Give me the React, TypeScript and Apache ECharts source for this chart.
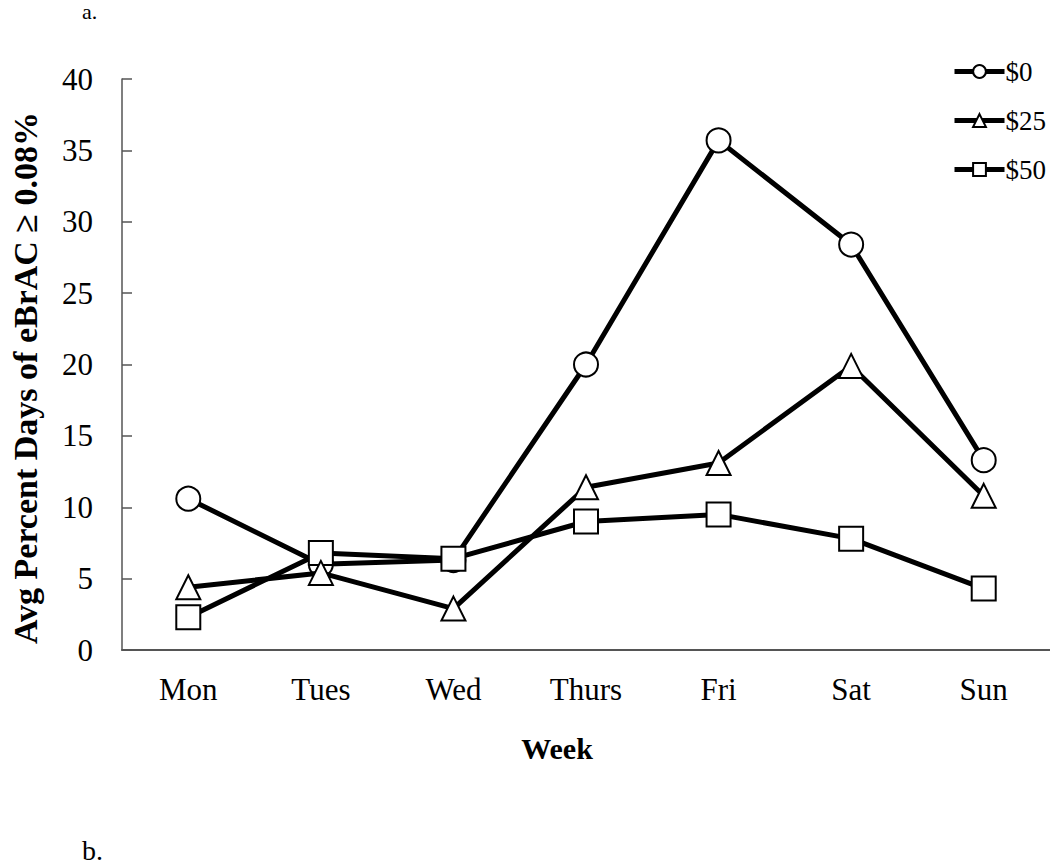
import React, { useEffect, useRef } from "react";
import * as echarts from "echarts";

const categories = ["Mon", "Tues", "Wed", "Thurs", "Fri", "Sat", "Sun"];
const seriesNames = ["$0", "$25", "$50"];
const values0 = [10.6, 6.0, 6.3, 20.0, 35.7, 28.4, 13.3];
const values25 = [4.4, 5.4, 2.9, 11.4, 13.1, 19.9, 10.8];
const values50 = [2.3, 6.8, 6.4, 9.0, 9.5, 7.8, 4.3];
const yTicks = { min: 0, max: 40, interval: 5 };

const FONT = "'Liberation Serif', 'Times New Roman', serif";

export default function App() {
  const ref = useRef<HTMLDivElement>(null);
  useEffect(() => {
    if (!ref.current) return;
    const chart = echarts.init(ref.current, undefined, { renderer: "svg" });
    const mkSeries = (name: string, data: number[], symbol: string, z: number) => ({
      name,
      type: "line",
      data,
      symbol,
      symbolSize: 24,
      z,
      lineStyle: { color: "#000", width: 5 },
      itemStyle: { color: "#fff", borderColor: "#000", borderWidth: 2 },
    });
    chart.setOption({
      animation: false,
      backgroundColor: "#fff",
      textStyle: { fontFamily: FONT },
      grid: { left: 122, top: 79, width: 934, height: 571, containLabel: false },
      legend: {
        orient: "vertical",
        left: 947,
        top: 53,
        itemWidth: 50,
        itemHeight: 16,
        itemGap: 22,
        data: seriesNames,
        lineStyle: { width: 5, color: "#000" },
        textStyle: { fontFamily: FONT, fontSize: 27, color: "#000", padding: [0, 0, 0, -4] },
      },
      xAxis: {
        type: "category",
        data: categories,
        boundaryGap: true,
        axisLine: { lineStyle: { color: "#555", width: 2 } },
        axisTick: { inside: true, alignWithLabel: true, length: 9, lineStyle: { color: "#555", width: 1.5 } },
        axisLabel: { fontFamily: FONT, fontSize: 31, color: "#000", margin: 24 },
        splitLine: { show: false },
      },
      yAxis: {
        type: "value",
        min: yTicks.min,
        max: yTicks.max,
        interval: yTicks.interval,
        axisLine: { show: true, lineStyle: { color: "#555", width: 1.5 } },
        axisTick: { show: true, inside: true, length: 10, lineStyle: { color: "#555", width: 1.5 } },
        axisLabel: { fontFamily: FONT, fontSize: 31, color: "#000", margin: 29 },
        splitLine: { show: false },
      },
      graphic: [
        {
          type: "text",
          x: 25,
          y: 378,
          rotation: Math.PI / 2,
          style: {
            text: "Avg Percent Days of eBrAC \u2265 0.08%",
            font: `bold 34px ${FONT}`,
            fill: "#000",
            align: "center",
            verticalAlign: "middle",
          },
        },
        {
          type: "text",
          x: 557,
          y: 748,
          style: { text: "Week", font: `bold 30px ${FONT}`, fill: "#000", align: "center", verticalAlign: "middle" },
        },
        {
          type: "text",
          x: 82,
          y: 0,
          style: { text: "a.", font: `22px ${FONT}`, lineHeight: 22, fill: "#000", align: "left", verticalAlign: "top" },
        },
        {
          type: "text",
          x: 82,
          y: 864,
          style: { text: "b.", font: `28px ${FONT}`, fill: "#000", align: "left", verticalAlign: "bottom" },
        },
      ],
      series: [
        mkSeries(seriesNames[0], values0, "circle", 2),
        mkSeries(seriesNames[1], values25, "triangle", 4),
        mkSeries(seriesNames[2], values50, "rect", 3),
      ],
    });
    return () => chart.dispose();
  }, []);
  return (
    <div
      ref={ref}
      style={{ position: "absolute", left: 0, top: 0, width: 1050, height: 864, background: "#fff" }}
    />
  );
}
